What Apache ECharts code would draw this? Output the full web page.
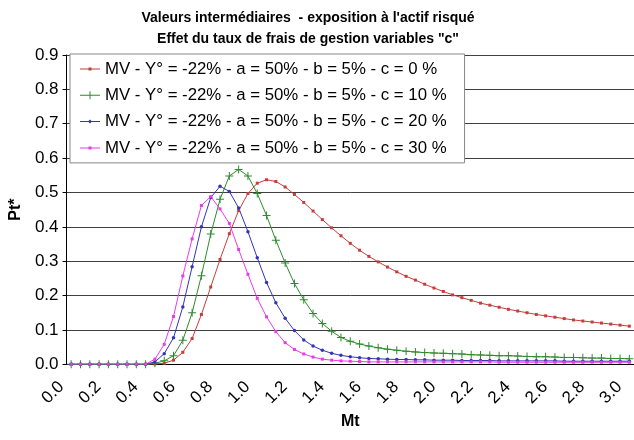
<!DOCTYPE html>
<html>
<head>
<meta charset="utf-8">
<script src="https://cdn.jsdelivr.net/npm/echarts@6/dist/echarts.min.js"></script>
<style>html,body{margin:0;padding:0;background:#fff}#c{width:634px;height:440px}</style>
</head>
<body>
<div id="c"></div>
<script>
const titleText = "Valeurs intermédiaires  - exposition à l'actif risqué\nEffet du taux de frais de gestion variables \"c\"";
const xName = "Mt";
const yName = "Pt*";
const seriesNames = [
  "MV - Y° = -22% - a = 50% - b = 5% - c = 0 %",
  "MV - Y° = -22% - a = 50% - b = 5% - c = 10 %",
  "MV - Y° = -22% - a = 50% - b = 5% - c = 20 %",
  "MV - Y° = -22% - a = 50% - b = 5% - c = 30 %"
];
const mt = [0, 0.05, 0.1, 0.15, 0.2, 0.25, 0.3, 0.35, 0.4, 0.45, 0.5, 0.55, 0.6, 0.65, 0.7, 0.75, 0.8, 0.85, 0.9, 0.95,
  1.0, 1.05, 1.1, 1.15, 1.2, 1.25, 1.3, 1.35, 1.4, 1.45, 1.5, 1.55, 1.6, 1.65, 1.7, 1.75, 1.8, 1.85, 1.9, 1.95,
  2.0, 2.05, 2.1, 2.15, 2.2, 2.25, 2.3, 2.35, 2.4, 2.45, 2.5, 2.55, 2.6, 2.65, 2.7, 2.75, 2.8, 2.85, 2.9, 2.95, 3.0];
const pC0 = [0, 0, 0, 0, 0, 0, 0, 0, 0, 0.001, 0.003, 0.012, 0.035, 0.075, 0.145, 0.225, 0.305, 0.38, 0.447, 0.497,
  0.527, 0.537, 0.532, 0.516, 0.494, 0.471, 0.446, 0.421, 0.397, 0.374, 0.352, 0.332, 0.314, 0.298, 0.283, 0.269, 0.256, 0.245, 0.233, 0.222,
  0.212, 0.202, 0.194, 0.186, 0.178, 0.172, 0.166, 0.160, 0.155, 0.150, 0.145, 0.141, 0.137, 0.133, 0.129, 0.126, 0.123, 0.120, 0.117, 0.114, 0.111];
const pC10 = [0, 0, 0, 0, 0, 0, 0, 0, 0, 0.003, 0.01, 0.025, 0.07, 0.15, 0.258, 0.379, 0.48, 0.548, 0.567, 0.548,
  0.497, 0.433, 0.361, 0.295, 0.235, 0.188, 0.148, 0.119, 0.096, 0.078, 0.067, 0.059, 0.053, 0.048, 0.044, 0.041, 0.038, 0.036, 0.034, 0.033,
  0.032, 0.031, 0.030, 0.028, 0.027, 0.026, 0.025, 0.025, 0.024, 0.023, 0.022, 0.022, 0.021, 0.020, 0.020, 0.019, 0.018, 0.018, 0.017, 0.017, 0.016];
const pC20 = [0, 0, 0, 0, 0, 0, 0, 0, 0, 0.007, 0.031, 0.077, 0.167, 0.284, 0.4, 0.485, 0.518, 0.503, 0.455, 0.386,
  0.31, 0.238, 0.179, 0.134, 0.098, 0.071, 0.053, 0.041, 0.032, 0.026, 0.022, 0.019, 0.017, 0.016, 0.015, 0.014, 0.014, 0.013, 0.013, 0.012,
  0.012, 0.012, 0.011, 0.011, 0.011, 0.011, 0.010, 0.010, 0.010, 0.010, 0.010, 0.010, 0.010, 0.009, 0.009, 0.009, 0.009, 0.009, 0.009, 0.009, 0.009];
const pC30 = [0, 0, 0, 0, 0, 0, 0, 0, 0, 0.015, 0.058, 0.139, 0.257, 0.365, 0.462, 0.488, 0.452, 0.41, 0.334, 0.262,
  0.192, 0.138, 0.095, 0.063, 0.043, 0.030, 0.021, 0.015, 0.012, 0.010, 0.009, 0.008, 0.007, 0.007, 0.007, 0.007, 0.007, 0.007, 0.007, 0.007,
  0.007, 0.007, 0.007, 0.007, 0.007, 0.007, 0.006, 0.006, 0.006, 0.006, 0.006, 0.006, 0.006, 0.006, 0.006, 0.006, 0.006, 0.006, 0.006, 0.006, 0.006];

const seriesData = [pC0, pC10, pC20, pC30];
const colors = ['#C83C3C', '#2E8B2E', '#3434B8', '#E83CE8'];
const plusPath = 'path://M3.5,0H4.5V3.5H8V4.5H4.5V8H3.5V4.5H0V3.5H3.5Z';
const symbols = ['rect', plusPath, 'circle', 'rect'];
const symbolSizes = [3, 8, 3.5, 3];
const legendIcons = [
  'path://M0,3.5H20V4.5H0Z M8.5,2.5H11.5V5.5H8.5Z',
  'path://M0,3.5H20V4.5H0Z M9.5,0H10.5V8H9.5Z',
  'path://M0,3.5H20V4.5H0Z M10,2L12,4L10,6L8,4Z',
  'path://M0,3.5H20V4.5H0Z M8.5,2.5H11.5V5.5H8.5Z'
];
const FF = "'Liberation Sans', Arial, sans-serif";

const chart = echarts.init(document.getElementById('c'), null, {renderer: 'canvas'});
chart.setOption({
  animation: false,
  backgroundColor: '#fff',
  textStyle: {fontFamily: FF},
  title: {
    text: titleText, left: 308, top: 8, textAlign: 'center', padding: 0,
    textStyle: {fontFamily: FF, fontSize: 14, fontWeight: 'bold', color: '#000', lineHeight: 21}
  },
  legend: {
    orient: 'vertical', left: 70, top: 54,
    padding: [5, 18, 5, 10], itemGap: 6.3, itemWidth: 20, itemHeight: 8,
    backgroundColor: '#fff', borderColor: '#888', borderWidth: 1, borderRadius: 0,
    textStyle: {fontFamily: FF, fontSize: 16.8, color: '#000', lineHeight: 20},
    itemStyle: {borderWidth: 0},
    data: seriesNames.map((n, i) => ({name: n, icon: legendIcons[i]}))
  },
  grid: {left: 66, top: 55, width: 576, height: 309.3},
  xAxis: {
    type: 'category', data: mt, boundaryGap: true,
    axisLine: {lineStyle: {color: '#000', width: 1}},
    axisTick: {interval: 3, length: 5, lineStyle: {color: '#000'}},
    axisLabel: {interval: 3, rotate: 45, fontSize: 17, color: '#000', margin: 10, padding: [0, 14, 0, 0], fontFamily: FF,
      formatter: v => Number(v).toFixed(1)},
    splitLine: {show: false},
    name: xName, nameLocation: 'middle', nameGap: 48,
    nameTextStyle: {fontFamily: FF, fontWeight: 'bold', fontSize: 16, color: '#000'}
  },
  yAxis: {
    type: 'value', min: 0, max: 0.9, interval: 0.1,
    axisLine: {show: true, lineStyle: {color: '#000', width: 1}},
    axisTick: {show: true, length: 4, lineStyle: {color: '#000'}},
    axisLabel: {fontSize: 17, color: '#000', margin: 8, fontFamily: FF, formatter: v => v.toFixed(1)},
    splitLine: {show: true, lineStyle: {color: '#404040', width: 1}},
    name: yName, nameLocation: 'middle', nameGap: 40, nameRotate: 90,
    nameTextStyle: {fontFamily: FF, fontWeight: 'bold', fontSize: 16, color: '#000'}
  },
  series: seriesData.map((d, i) => ({
    name: seriesNames[i], type: 'line', data: d,
    symbol: symbols[i], symbolSize: symbolSizes[i], showSymbol: true, showAllSymbol: true,
    lineStyle: {width: 1, color: colors[i]},
    itemStyle: {color: colors[i], borderWidth: 0},
    emphasis: {disabled: true}
  }))
});
</script>
</body>
</html>
